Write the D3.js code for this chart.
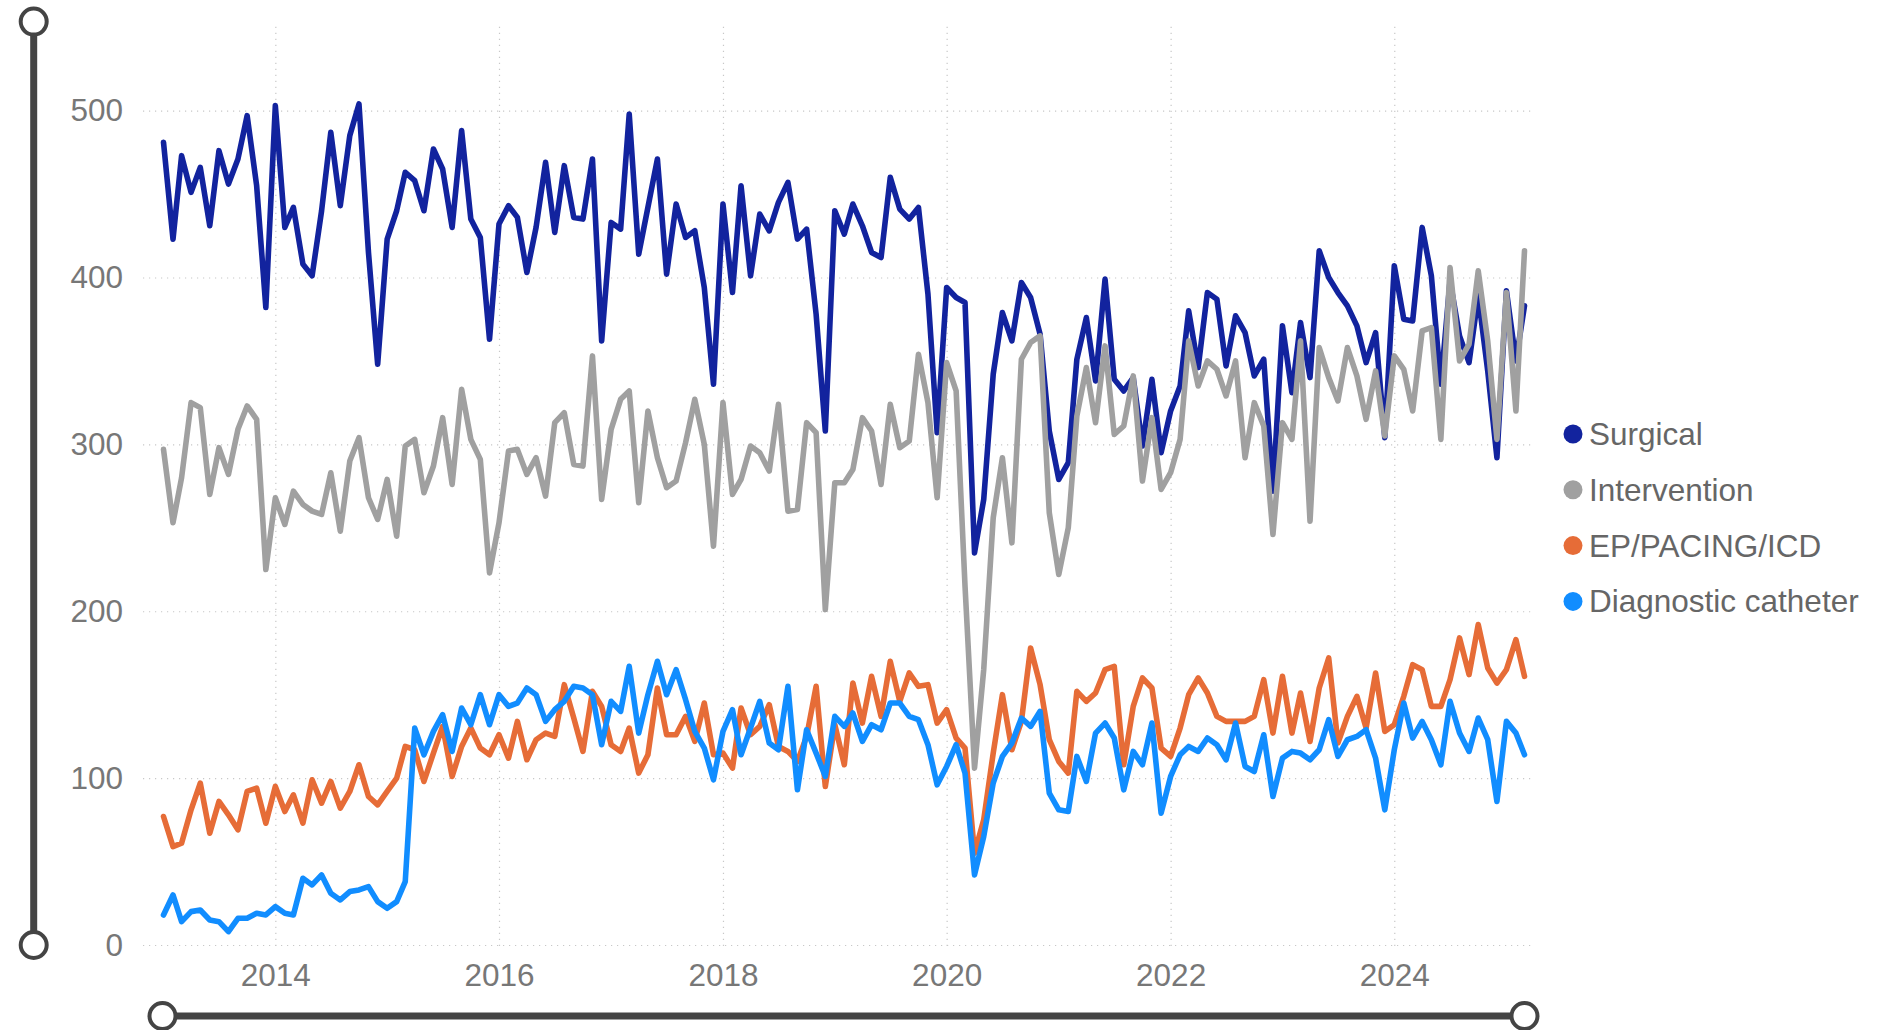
<!DOCTYPE html>
<html>
<head>
<meta charset="utf-8">
<script src="https://cdn.jsdelivr.net/npm/d3@7"></script>
<style>
  html, body { margin: 0; padding: 0; background: #ffffff; }
  svg { display: block; }
</style>
</head>
<body>
<svg id="chart" width="1885" height="1030"></svg>
<script>
// ---- Data (monthly, Jan 2013 – Mar 2025) ----
const firstMonth = new Date(2013, 0, 1);
const lastMonth = new Date(2025, 2, 1);
const seriesNames = ["Surgical", "Intervention", "EP/PACING/ICD", "Diagnostic catheter"];
const seriesColors = ["#12239E", "#A0A0A0", "#E66C37", "#118DFF"];
const yTicks = [0, 100, 200, 300, 400, 500];
const xTickYears = [2014, 2016, 2018, 2020, 2022, 2024];

const surgical = [
  481, 423, 473, 451, 466, 431, 476, 456, 471, 497, 455, 382, 503, 430, 442, 408, 401, 440, 487, 443, 485, 504, 415, 348, 423, 440, 463, 458, 440, 477,
  465, 430, 488, 435, 424, 363, 432, 443, 436, 403, 430, 469, 427, 467, 436, 435, 471, 362, 433, 429, 498, 414, 442, 471, 402, 444, 424, 428, 394,
  336, 444, 391, 455, 401, 438, 428, 445, 457, 423, 429, 378, 308, 440, 426, 444, 431, 415, 412, 460, 441, 435, 442, 390, 307, 394, 388, 385, 235,
  267, 342, 379, 362, 397, 388, 366, 308, 279, 289, 351, 376, 338, 399, 339, 332, 340, 299, 339, 295, 320, 335, 380, 346, 391, 387, 347, 377, 367, 341,
  351, 272, 371, 331, 373, 340, 416, 400, 391, 383, 371, 349, 367, 304, 407, 375, 374, 430, 401, 336, 398, 365, 349, 389, 344, 292, 392, 350, 383
];
const intervention = [
  297, 253, 280, 325, 322, 270, 298, 282, 309, 323, 315, 225, 268, 252, 272, 264, 260, 258, 283, 248, 290, 304, 268, 255, 279, 245, 299, 303, 271,
  287, 316, 276, 333, 303, 291, 223, 253, 296, 297, 282, 292, 269, 313, 319, 288, 287, 353, 267, 309, 327, 332, 265, 320, 292, 274, 278, 301, 327, 300,
  239, 325, 270, 279, 299, 295, 284, 324, 260, 261, 313, 307, 201, 277, 277, 285, 316, 308, 276, 324, 298, 302, 354, 325, 268, 349, 332, 215, 106,
  165, 256, 292, 241, 351, 361, 365, 259, 222, 250, 317, 346, 313, 359, 306, 311, 341, 278, 316, 273, 283, 303, 362, 335, 350, 345, 329, 350, 292, 325,
  311, 246, 313, 303, 362, 254, 358, 340, 326, 358, 341, 315, 344, 305, 353, 345, 320, 368, 370, 303, 406, 350, 360, 404, 362, 303, 391, 320, 416
];
const epPacingIcd = [
  77, 59, 61, 81, 97, 67, 86, 78, 69, 92, 94, 73, 95, 80, 90, 73, 99, 85, 98, 82, 92, 108, 89, 84, 92, 100, 119, 117, 98, 115,
  131, 101, 119, 130, 118, 114, 126, 112, 134, 111, 123, 127, 125, 156, 136, 116, 152, 143, 120, 116, 130, 103, 114, 154, 126, 126, 137, 122, 145,
  114, 115, 106, 142, 126, 131, 144, 119, 116, 110, 125, 155, 95, 132, 108, 157, 133, 161, 137, 170, 146, 163, 155, 156, 133, 141, 124, 118, 55,
  75, 115, 150, 117, 134, 178, 156, 123, 110, 103, 152, 146, 151, 165, 167, 108, 143, 160, 154, 118, 113, 130, 150, 160, 151, 137, 134, 134, 134, 137,
  159, 127, 161, 127, 151, 122, 154, 172, 121, 137, 149, 130, 163, 128, 132, 149, 168, 165, 143, 143, 159, 184, 162, 192, 166, 157, 165, 183, 161
];
const diagnosticCatheter = [
  18, 30, 14, 20, 21, 15, 14, 8, 16, 16, 19, 18, 23, 19, 18, 40, 36, 42, 31, 27, 32, 33, 35, 26, 22, 26, 38, 130, 114, 128,
  138, 116, 142, 132, 150, 132, 150, 143, 145, 154, 150, 134, 141, 146, 155, 154, 150, 120, 146, 140, 167, 127, 150, 170, 150, 165, 147, 128, 118,
  99, 128, 141, 114, 130, 146, 121, 117, 155, 93, 129, 115, 101, 137, 131, 139, 122, 132, 129, 145, 145, 137, 135, 120, 96, 107, 120, 103, 42,
  65, 97, 113, 121, 136, 131, 140, 91, 81, 80, 113, 98, 127, 133, 124, 93, 116, 108, 133, 79, 101, 114, 119, 116, 124, 120, 111, 133, 107, 104,
  126, 89, 112, 116, 115, 111, 117, 135, 113, 123, 125, 129, 112, 81, 117, 145, 124, 134, 123, 108, 146, 127, 116, 136, 123, 86, 134, 127, 114
];
const seriesValues = [surgical, intervention, epPacingIcd, diagnosticCatheter];

// ---- Layout ----
const months = d3.timeMonth.range(firstMonth, d3.timeMonth.offset(lastMonth, 1));
const plotLeft = 143, plotRight = 1533, plotTop = 23, plotBottom = 945;
const x = d3.scaleTime().domain([firstMonth, lastMonth]).range([163.5, 1524.5]);
const y = d3.scaleLinear().domain([0, 552.5]).range([plotBottom, plotTop]);

const svg = d3.select("#chart");
const font = "'Liberation Sans', Arial, sans-serif";

// Horizontal gridlines
const gy = svg.append("g").attr("transform", `translate(${plotLeft},0)`)
  .call(d3.axisLeft(y).tickValues(yTicks).tickSize(-(plotRight - plotLeft)).tickFormat(""));
gy.select(".domain").remove();
gy.selectAll("line").attr("stroke", "#c8c8c8").attr("stroke-width", 1.2).attr("stroke-dasharray", "1.2 4.8");

// Vertical gridlines
const xTickDates = xTickYears.map(yr => new Date(yr, 0, 1));
const gx = svg.append("g").attr("transform", `translate(0,${plotBottom + 1})`)
  .call(d3.axisBottom(x).tickValues(xTickDates).tickSize(-(plotBottom + 1 - plotTop)).tickFormat(""));
gx.select(".domain").remove();
gx.selectAll("line").attr("stroke", "#c8c8c8").attr("stroke-width", 1.2).attr("stroke-dasharray", "1.2 4.8");

// Y axis labels
const ya = svg.append("g").attr("transform", `translate(${plotLeft},0)`)
  .call(d3.axisLeft(y).tickValues(yTicks).tickSize(0).tickPadding(20));
ya.select(".domain").remove();
ya.selectAll("text").attr("font-family", font).attr("font-size", 31.5).attr("fill", "#777777");

// X axis labels
const xa = svg.append("g").attr("transform", `translate(0,${plotBottom})`)
  .call(d3.axisBottom(x).tickValues(xTickDates).tickSize(0).tickPadding(18.6).tickFormat(d3.timeFormat("%Y")));
xa.select(".domain").remove();
xa.selectAll("text").attr("font-family", font).attr("font-size", 31.5).attr("fill", "#777777");

// Lines
const line = d3.line().x((d, i) => x(months[i])).y(d => y(d));
seriesValues.forEach((vals, k) => {
  svg.append("path")
    .datum(vals)
    .attr("fill", "none")
    .attr("stroke", seriesColors[k])
    .attr("stroke-width", 5.6)
    .attr("stroke-linejoin", "round")
    .attr("stroke-linecap", "round")
    .attr("d", line);
});

// Legend
const legend = svg.append("g");
seriesNames.forEach((name, k) => {
  const cy = 434 + k * 55.8;
  legend.append("circle").attr("cx", 1573).attr("cy", cy).attr("r", 9.5).attr("fill", seriesColors[k]);
  legend.append("text").attr("x", 1589).attr("y", cy + 11)
    .attr("font-family", font).attr("font-size", 31.5).attr("fill", "#666666").text(name);
});

// Zoom sliders (decorative)
const sliderColor = "#444444";
const vx = 33.7, vTop = y(552.5) - 1.4, vBot = y(0);
svg.append("line").attr("x1", vx).attr("x2", vx).attr("y1", vTop).attr("y2", vBot)
  .attr("stroke", sliderColor).attr("stroke-width", 7);
[vTop, vBot].forEach(cy => {
  svg.append("circle").attr("cx", vx).attr("cy", cy).attr("r", 13)
    .attr("fill", "#ffffff").attr("stroke", sliderColor).attr("stroke-width", 4);
});
const hy = 1016, hL = x(firstMonth) - 1, hR = x(lastMonth);
svg.append("line").attr("x1", hL).attr("x2", hR).attr("y1", hy).attr("y2", hy)
  .attr("stroke", sliderColor).attr("stroke-width", 7);
[hL, hR].forEach(cx => {
  svg.append("circle").attr("cx", cx).attr("cy", hy).attr("r", 13)
    .attr("fill", "#ffffff").attr("stroke", sliderColor).attr("stroke-width", 4);
});
</script>
</body>
</html>
